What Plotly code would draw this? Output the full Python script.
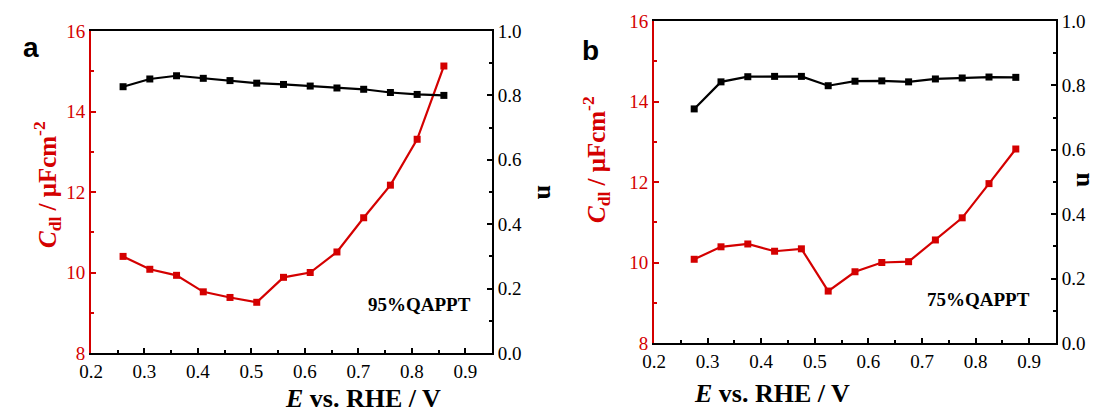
import plotly.graph_objects as go

# ---------------- data ----------------
E_a = [0.26, 0.31, 0.36, 0.41, 0.46, 0.51, 0.56, 0.61, 0.66, 0.71, 0.76, 0.81, 0.86]
Cdl_a = [10.40, 10.08, 9.93, 9.52, 9.38, 9.26, 9.88, 10.00, 10.51, 11.36, 12.17, 13.31, 15.13]
n_a = [0.827, 0.851, 0.861, 0.853, 0.846, 0.838, 0.834, 0.829, 0.823, 0.819, 0.809, 0.803, 0.800]

E_b = [0.275, 0.325, 0.375, 0.425, 0.475, 0.525, 0.575, 0.625, 0.675, 0.725, 0.775, 0.825, 0.875]
Cdl_b = [10.08, 10.39, 10.46, 10.28, 10.34, 9.29, 9.77, 10.00, 10.02, 10.56, 11.11, 11.96, 12.82]
n_b = [0.727, 0.811, 0.827, 0.828, 0.828, 0.799, 0.813, 0.814, 0.811, 0.820, 0.823, 0.826, 0.825]

labels = ["a", "b"]
samples = ["95%QAPPT", "75%QAPPT"]
x_title = "<b><i>E</i> vs. RHE / V</b>"
y_title = "<b><i>C</i><sub>dl</sub> / μFcm<sup>-2</sup></b>"
y2_title = "<b>n</b>"

RED = "#d40000"
BLACK = "#000000"
SERIF = "Liberation Serif"
W, H = 1110, 413


def px(x):
    return x / W


def py(y):
    return 1 - y / H


fig = go.Figure()

# panel a
fig.add_trace(go.Scatter(x=E_a, y=Cdl_a, xaxis="x", yaxis="y", mode="lines+markers",
                         line=dict(color=RED, width=2.2),
                         marker=dict(symbol="square", size=7, color=RED)))
fig.add_trace(go.Scatter(x=E_a, y=n_a, xaxis="x", yaxis="y2", mode="lines+markers",
                         line=dict(color=BLACK, width=2.2),
                         marker=dict(symbol="square", size=7, color=BLACK)))
# panel b
fig.add_trace(go.Scatter(x=E_b, y=Cdl_b, xaxis="x2", yaxis="y3", mode="lines+markers",
                         line=dict(color=RED, width=2.2),
                         marker=dict(symbol="square", size=7, color=RED)))
fig.add_trace(go.Scatter(x=E_b, y=n_b, xaxis="x2", yaxis="y4", mode="lines+markers",
                         line=dict(color=BLACK, width=2.2),
                         marker=dict(symbol="square", size=7, color=BLACK)))

tickfont_black = dict(family=SERIF, size=19, color=BLACK)
tickfont_red = dict(family=SERIF, size=19, color=RED)


def xaxis_def(domain, anchor):
    return dict(domain=domain, anchor=anchor, range=[0.2, 0.95], tick0=0.2, dtick=0.1,
                tickformat=".1f", showgrid=False, zeroline=False, automargin=False,
                showline=True, linecolor=BLACK, linewidth=2, mirror=True,
                ticks="inside", ticklen=5, tickwidth=1.5, tickcolor=BLACK,
                minor=dict(ticks="inside", ticklen=3, tickwidth=1.5, tickcolor=BLACK,
                           dtick=0.05, tick0=0.2, showgrid=False),
                tickfont=tickfont_black)


def yleft_def(domain, anchor):
    return dict(domain=domain, anchor=anchor, range=[8, 16], tick0=8, dtick=2,
                showgrid=False, zeroline=False, automargin=False,
                showline=True, linecolor=RED, linewidth=2,
                ticks="inside", ticklen=5, tickwidth=1.5, tickcolor=RED,
                minor=dict(ticks="inside", ticklen=3, tickwidth=1.5, tickcolor=RED,
                           dtick=1, tick0=8, showgrid=False),
                tickfont=tickfont_red)


def yright_def(overlay, anchor):
    return dict(overlaying=overlay, anchor=anchor, side="right", range=[0, 1], tick0=0,
                dtick=0.2, tickformat=".1f", showgrid=False, zeroline=False, automargin=False,
                showline=True, linecolor=BLACK, linewidth=2,
                ticks="inside", ticklen=5, tickwidth=1.5, tickcolor=BLACK,
                minor=dict(ticks="inside", ticklen=3, tickwidth=1.5, tickcolor=BLACK,
                           dtick=0.1, tick0=0, showgrid=False),
                tickfont=tickfont_black)


dom_a_x = [px(91), px(492)]
dom_a_y = [py(353), py(31)]
dom_b_x = [px(654), px(1056)]
dom_b_y = [py(343), py(21)]

ann = []
# panel letters
ann.append(dict(x=px(21), y=py(30), text="<b>a</b>", showarrow=False,
                font=dict(family="Liberation Sans", size=28, color=BLACK)))
ann.append(dict(x=px(590), y=py(33), text="<b>b</b>", showarrow=False,
                font=dict(family="Liberation Sans", size=28, color=BLACK)))
# x titles (top-anchored just under the tick labels)
ann.append(dict(x=px(283), y=py(382), yanchor="top", text=x_title, showarrow=False,
                font=dict(family=SERIF, size=26, color=BLACK)))
ann.append(dict(x=px(852), y=py(377), yanchor="top", text=x_title, showarrow=False,
                font=dict(family=SERIF, size=26, color=BLACK)))
# left y titles
ann.append(dict(x=px(27), y=py(185), text=y_title, showarrow=False, textangle=-90,
                font=dict(family=SERIF, size=25, color=RED)))
ann.append(dict(x=px(596), y=py(160), text=y_title, showarrow=False, textangle=-90,
                font=dict(family=SERIF, size=25, color=RED)))
# right y titles
ann.append(dict(x=px(547), y=py(192), text=y2_title, showarrow=False, textangle=90,
                font=dict(family=SERIF, size=26, color=BLACK)))
ann.append(dict(x=px(1102), y=py(180), text=y2_title, showarrow=False, textangle=90,
                font=dict(family=SERIF, size=26, color=BLACK)))
# sample labels
ann.append(dict(x=px(473), y=py(317), text="<b>" + samples[0] + "</b>", showarrow=False,
                xanchor="right", font=dict(family=SERIF, size=19, color=BLACK)))
ann.append(dict(x=px(1032), y=py(312), text="<b>" + samples[1] + "</b>", showarrow=False,
                xanchor="right", font=dict(family=SERIF, size=19, color=BLACK)))

for a in ann:
    a.setdefault("xref", "paper")
    a.setdefault("yref", "paper")

fig.update_layout(
    width=W, height=H, margin=dict(l=0, r=0, t=0, b=0, autoexpand=False),
    paper_bgcolor="white", plot_bgcolor="white", showlegend=False,
    font=dict(family=SERIF),
    xaxis=xaxis_def(dom_a_x, "y"),
    yaxis=yleft_def(dom_a_y, "x"),
    yaxis2=yright_def("y", "x"),
    xaxis2=xaxis_def(dom_b_x, "y3"),
    yaxis3=yleft_def(dom_b_y, "x2"),
    yaxis4=yright_def("y3", "x2"),
    annotations=ann,
)

fig.write_html("out.html", config={"displayModeBar": False},
               post_script="document.body.style.margin='0px';document.body.style.overflow='hidden';")
